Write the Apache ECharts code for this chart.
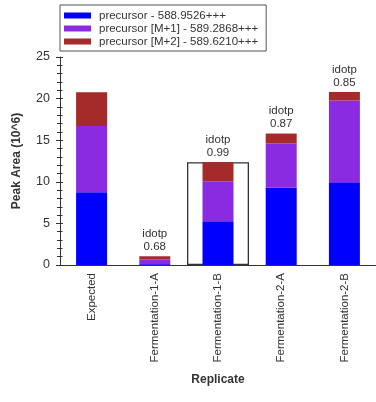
<!DOCTYPE html>
<html>
<head>
<meta charset="utf-8">
<script src="https://cdn.jsdelivr.net/npm/echarts@6/dist/echarts.min.js"></script>
<style>
html,body{margin:0;padding:0;background:#fff;}
#chart{width:376px;height:402px;}
</style>
</head>
<body>
<div id="chart"></div>
<script>
var categories = ['Expected', 'Fermentation-1-A', 'Fermentation-1-B', 'Fermentation-2-A', 'Fermentation-2-B'];
var seriesNames = ['precursor - 588.9526+++', 'precursor [M+1] - 589.2868+++', 'precursor [M+2] - 589.6210+++'];
var precursor = [8.75, 0.10, 5.27, 9.28, 9.95];
var precursorM1 = [7.95, 0.55, 4.80, 5.32, 9.82];
var precursorM2 = [4.06, 0.40, 2.29, 1.20, 1.03];
var idotp = [null, '0.68', '0.99', '0.87', '0.85'];
var selectedIndex = 2;
var yTicks = [0, 5, 10, 15, 20, 25];

var FONT = 'Liberation Sans, Arial, sans-serif';
var TXT = '#333';

var boxData = categories.map(function (c, i) {
  return i === selectedIndex ? +(precursor[i] + precursorM1[i] + precursorM2[i]).toFixed(3) : null;
});

var chart = echarts.init(document.getElementById('chart'), null, {renderer: 'canvas'});
chart.setOption({
  animation: false,
  backgroundColor: '#fff',
  textStyle: {fontFamily: FONT},
  legend: {
    orient: 'vertical',
    left: 60, top: 5,
    padding: [4, 8, 3, 4],
    itemGap: 0,
    itemWidth: 27, itemHeight: 6,
    icon: 'rect',
    borderColor: '#555', borderWidth: 1,
    data: seriesNames,
    textStyle: {fontFamily: FONT, fontSize: 11.5, color: TXT, lineHeight: 13, padding: [0, 0, 0, 3]}
  },
  grid: {left: 60, right: 0, top: 57, bottom: 137, containLabel: false},
  xAxis: [{
    type: 'category',
    data: categories,
    name: 'Replicate',
    nameLocation: 'middle',
    nameGap: 109,
    nameTextStyle: {fontFamily: FONT, fontSize: 12, fontWeight: 'bold', color: TXT},
    axisLine: {lineStyle: {color: '#333', width: 1}},
    axisTick: {alignWithLabel: true, length: 5, lineStyle: {color: '#333'}},
    axisLabel: {rotate: 90, margin: 8, fontFamily: FONT, fontSize: 11.5, color: TXT}
  }, {
    type: 'category',
    data: categories,
    position: 'bottom',
    axisLine: {show: false},
    axisTick: {alignWithLabel: true, inside: true, length: 5, lineStyle: {color: '#333'}},
    axisLabel: {show: false}
  }],
  yAxis: [{
    type: 'value',
    min: yTicks[0], max: yTicks[yTicks.length - 1], interval: yTicks[1] - yTicks[0],
    name: 'Peak Area (10^6)',
    nameLocation: 'middle',
    nameGap: 37,
    nameTextStyle: {fontFamily: FONT, fontSize: 12, fontWeight: 'bold', color: TXT},
    axisLine: {show: true, lineStyle: {color: '#333', width: 1}},
    axisTick: {show: true, length: 4, lineStyle: {color: '#333'}},
    minorTick: {show: true, splitNumber: 5, length: 3, lineStyle: {color: '#333'}},
    splitLine: {show: false},
    axisLabel: {margin: 10, fontFamily: FONT, fontSize: 12.5, color: TXT}
  }, {
    type: 'value',
    min: yTicks[0], max: yTicks[yTicks.length - 1], interval: yTicks[1] - yTicks[0],
    position: 'left',
    axisLine: {show: false},
    axisTick: {show: true, inside: true, length: 3, lineStyle: {color: '#333'}},
    minorTick: {show: true, splitNumber: 5, length: 2.5, lineStyle: {color: '#333'}},
    splitLine: {show: false},
    axisLabel: {show: false}
  }],
  series: [{
    name: 'box',
    type: 'bar',
    xAxisIndex: 1,
    yAxisIndex: 0,
    barWidth: 62,
    z: 1,
    data: boxData,
    itemStyle: {color: 'rgba(0,0,0,0)', borderColor: '#333', borderWidth: 1.3},
    silent: true
  }, {
    name: seriesNames[0], type: 'bar', stack: 'total', barWidth: 31, z: 2,
    data: precursor, itemStyle: {color: '#0000FF'}
  }, {
    name: seriesNames[1], type: 'bar', stack: 'total', barWidth: 31, z: 2,
    data: precursorM1, itemStyle: {color: '#8A2BE2'}
  }, {
    name: seriesNames[2], type: 'bar', stack: 'total', barWidth: 31, z: 2,
    data: precursorM2, itemStyle: {color: '#A52A2A'},
    label: {
      show: true, position: 'top', distance: 3,
      fontFamily: FONT, fontSize: 11.5, color: TXT, lineHeight: 13,
      formatter: function (p) { return idotp[p.dataIndex] ? 'idotp\n' + idotp[p.dataIndex] : ''; }
    }
  }]
});
</script>
</body>
</html>
